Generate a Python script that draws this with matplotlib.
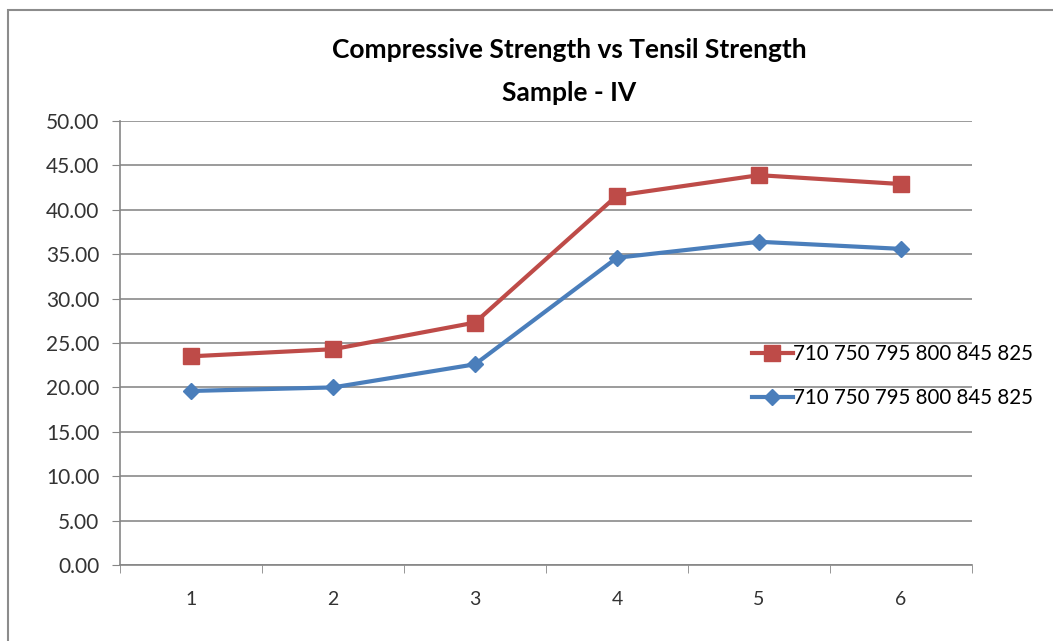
import matplotlib.pyplot as plt
from matplotlib.patches import Rectangle

plt.rcParams['font.family'] = ['Lato', 'DejaVu Sans']

samples = ['1', '2', '3', '4', '5', '6']
compressive = [23.5, 24.3, 27.3, 41.6, 43.9, 42.9]
tensile = [19.6, 20.0, 22.6, 34.6, 36.4, 35.6]
series_label = '710 750 795 800 845 825'
y_ticks = [0, 5, 10, 15, 20, 25, 30, 35, 40, 45, 50]

fig = plt.figure(figsize=(10.53, 6.41), dpi=100)
# grey chart-area frame
fig.patches.append(Rectangle((8 / 1053, -0.05), 1.1, 1.05 - 10 / 641,
                             transform=fig.transFigure, fill=False,
                             edgecolor='#8c8c8c', linewidth=1.5))
ax = fig.add_axes([120 / 1053, 76 / 641, 852 / 1053, 444 / 641])

x = list(range(len(samples)))
ax.plot(x, compressive, color='#BE4B48', linewidth=3, marker='s',
        markersize=11, label=series_label, zorder=3)
ax.plot(x, tensile, color='#4A7EBB', linewidth=3, marker='D',
        markersize=8, label=series_label, zorder=3)

ax.set_xlim(-0.5, len(samples) - 0.5)
ax.set_ylim(0, 50)
ax.set_yticks(y_ticks)
ax.set_yticklabels([f'{v:.2f}' for v in y_ticks], fontsize=15, color='#333333')
ax.set_xticks(x)
ax.set_xticklabels(samples, fontsize=14, color='#333333')
ax.set_xticks([i - 0.5 for i in range(len(samples) + 1)], minor=True)
ax.tick_params(axis='x', which='major', length=0, pad=19)
ax.tick_params(axis='x', which='minor', length=6, color='#868686')
ax.tick_params(axis='y', length=6, color='#868686', pad=9)

ax.grid(axis='y', color='#8a8a8a', linewidth=1.2)
ax.set_axisbelow(True)
for side in ('top', 'right'):
    ax.spines[side].set_visible(False)
for side in ('left', 'bottom'):
    ax.spines[side].set_color('#868686')
    ax.spines[side].set_linewidth(1.2)

fig.text(569 / 1053, 1 - 50 / 641, 'Compressive Strength vs Tensil Strength',
         ha='center', va='center', fontsize=19, fontweight='bold')
fig.text(569 / 1053, 1 - 93 / 641, 'Sample - IV',
         ha='center', va='center', fontsize=19, fontweight='bold')

ax.legend(loc='center left', bbox_to_anchor=(733 / 1053, 1 - 376 / 641),
          bbox_transform=fig.transFigure, frameon=False, fontsize=14.8,
          handlelength=2.0, handletextpad=0.0, labelspacing=1.15)

fig.savefig('out.png', dpi=100)
